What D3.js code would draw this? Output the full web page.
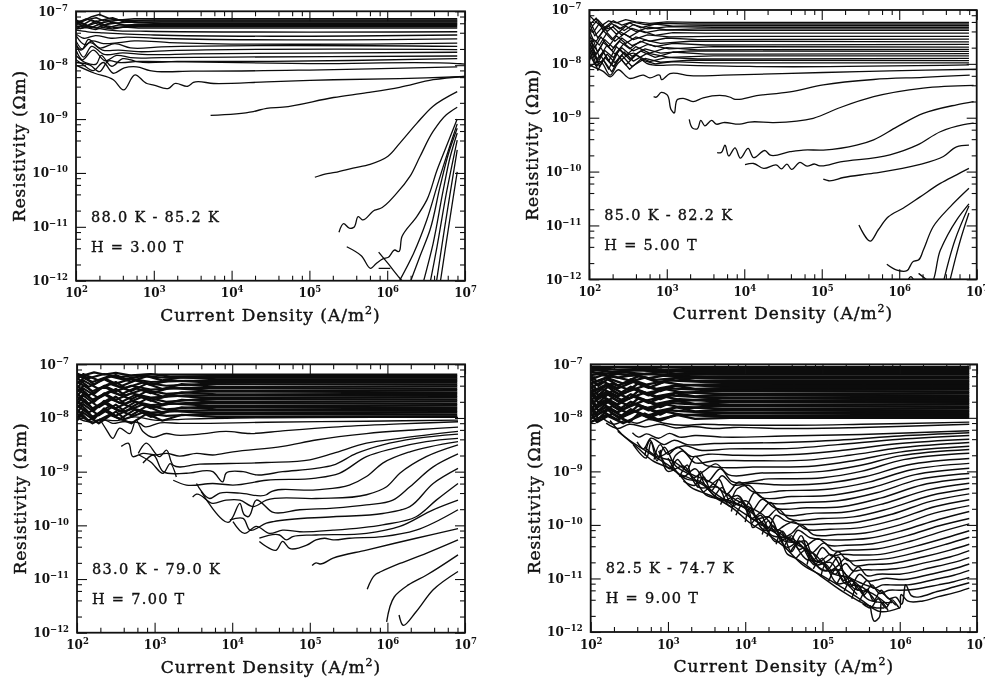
<!DOCTYPE html>
<html><head><meta charset="utf-8">
<script src="https://cdnjs.cloudflare.com/ajax/libs/d3/7.8.5/d3.min.js"></script>
<style>
html,body{margin:0;padding:0;background:#fff;overflow:hidden}
svg{display:block;filter:blur(0.3px)}
text{font-family:"DejaVu Serif",serif;fill:#111}
</style></head><body>
<svg id="c" width="985" height="678"></svg>
<script>
// all values below are log10(J) and log10(rho)
const xDecades=[2,3,4,5,6,7];
const yDecades=[-12,-11,-10,-9,-8,-7];
const minorFactors=[2,4,6,8];
const axisXLabel="Current Density (A/m";
const axisYLabel="Resistivity (Ωm)";
const rangeLabels=["88.0 K - 85.2 K","85.0 K - 82.2 K","83.0 K - 79.0 K","82.5 K - 74.7 K"];
const fieldLabels=["H = 3.00 T","H = 5.00 T","H = 7.00 T","H = 9.00 T"];

const bandXA=[[2,2.1,2.2,2.3,2.42,2.56,2.75,3.1,6.9],[2,2.06,2.15,2.26,2.36,2.5,2.68,3,6.9],[2,2.13,2.25,2.34,2.47,2.62,2.8,3.2,6.9]];
const bandRhoA=[
[-7.2,-7.17,-7.1,-7.06,-7.13,-7.16,-7.14,-7.14,-7.14],
[-7.16,-7.2,-7.15,-7.12,-7.18,-7.15,-7.17,-7.16,-7.16],
[-7.22,-7.14,-7.2,-7.16,-7.12,-7.2,-7.18,-7.18,-7.18],
[-7.18,-7.24,-7.16,-7.22,-7.19,-7.16,-7.21,-7.2,-7.2],
[-7.25,-7.2,-7.26,-7.18,-7.25,-7.22,-7.2,-7.22,-7.22],
[-7.22,-7.28,-7.22,-7.27,-7.2,-7.26,-7.24,-7.24,-7.24],
[-7.3,-7.25,-7.3,-7.24,-7.3,-7.25,-7.27,-7.26,-7.26],
[-7.27,-7.32,-7.27,-7.31,-7.26,-7.3,-7.28,-7.28,-7.28],
[-7.33,-7.3,-7.34,-7.3,-7.33,-7.29,-7.31,-7.31,-7.31]];
const curvesA=[
[2,-7.27,2.2,-7.3,2.5,-7.36,2.9,-7.37,6.9,-7.38],
[2,-7.35,2.15,-7.38,2.35,-7.4,2.6,-7.42,3,-7.44,6.9,-7.44],
[2,-7.42,2.1,-7.5,2.25,-7.45,2.45,-7.5,2.65,-7.48,3,-7.5,6.9,-7.51],
[2,-7.45,2.12,-7.62,2.2,-7.55,2.35,-7.6,2.55,-7.58,2.75,-7.55,3.2,-7.58,6.9,-7.59],
[2,-7.55,2.08,-7.7,2.16,-7.52,2.3,-7.68,2.5,-7.6,2.7,-7.68,3.1,-7.66,6.9,-7.65],
[2,-7.62,2.06,-7.72,2.18,-7.58,2.34,-7.72,2.55,-7.72,2.8,-7.75,3.2,-7.73,6.9,-7.71],
[2,-7.6,2.1,-7.85,2.2,-7.65,2.36,-7.8,2.6,-7.77,2.85,-7.8,3.5,-7.79,6.9,-7.76],
[2,-7.72,2.08,-7.9,2.22,-7.72,2.38,-7.92,2.52,-7.82,2.7,-7.86,3.1,-7.86,4,-7.85,6.9,-7.83],
[2,-7.82,2.12,-7.95,2.26,-7.98,2.32,-7.82,2.46,-8.02,2.6,-7.88,2.8,-7.94,3.3,-7.93,4.5,-7.93,6.9,-7.88],
[2,-7.9,2.1,-8,2.22,-8.1,2.35,-7.95,2.48,-8.15,2.62,-8.05,2.78,-8.03,2.95,-8.1,3.5,-8.11,5,-8.09,6.9,-8.03],
[2,-7.95,2.18,-8,2.3,-8.12,2.42,-7.92,2.55,-7.95,2.8,-7.93,3.4,-7.94,5,-7.97,6.9,-7.97,7,-7.98],
[2,-8,2.24,-8.15,2.48,-8.27,2.61,-8.46,2.76,-8.18,2.91,-8.34,3,-8.37,3.19,-8.43,3.27,-8.34,3.44,-8.39,3.51,-8.32,3.77,-8.34,4.45,-8.31,5.31,-8.27,6.16,-8.25,7,-8.21],
[3.73,-8.93,4.28,-8.86,4.45,-8.8,4.66,-8.78,5.31,-8.6,5.74,-8.51,6.16,-8.41,6.59,-8.27,7,-8.21],
[5.07,-10.08,5.2,-10.02,5.33,-9.99,5.56,-9.91,5.78,-9.84,6.01,-9.69,6.16,-9.45,6.38,-9.08,6.59,-8.76,6.9,-8.49],
[5.38,-11.1,5.44,-10.94,5.52,-11.03,5.57,-11.01,5.63,-10.81,5.68,-10.87,5.84,-10.69,5.91,-10.66,6.12,-10.38,6.29,-10.07,6.42,-9.7,6.59,-9.23,6.76,-8.92,6.9,-8.78],
[5.48,-11.37,5.67,-11.54,5.79,-11.77,5.86,-11.68,5.95,-11.59,6.01,-11.57,6.1,-11.43,6.14,-11.46,6.19,-11.18,6.38,-10.81,6.51,-10.5,6.64,-9.95,6.76,-9.51,6.9,-9],
[5.89,-11.47,6.01,-11.68,6.16,-11.95,6.22,-12.05],
[5.89,-11.77,6.04,-11.77],
[6.14,-12.05,6.34,-11.49,6.51,-10.87,6.64,-10.25,6.76,-9.7,6.9,-9.09],
[6.29,-12.05,6.42,-11.55,6.55,-11.06,6.68,-10.25,6.79,-9.63,6.9,-9.17],
[6.46,-12.05,6.59,-11.31,6.72,-10.32,6.81,-9.7,6.9,-9.26],
[6.55,-12.05,6.64,-11.37,6.76,-10.38,6.9,-9.39],
[6.63,-12.05,6.74,-11,6.9,-9.57],
[6.68,-12.05,6.79,-11,6.9,-9.98]];

const bandXB=[[2,2.07,2.15,2.25,2.35,2.47,2.6,2.78,3,3.4,6.9],[2,2.04,2.11,2.2,2.31,2.42,2.55,2.72,2.92,3.3,6.9],[2,2.09,2.18,2.29,2.39,2.52,2.66,2.85,3.08,3.5,6.9],[2,2.05,2.13,2.23,2.33,2.45,2.57,2.75,3.03,3.6,6.9]];
const bandRhoB=[
[-7.1,-7.2,-7.3,-7.2,-7.24,-7.18,-7.22,-7.25,-7.22,-7.23,-7.23],
[-7.2,-7.3,-7.18,-7.32,-7.2,-7.28,-7.22,-7.27,-7.25,-7.26,-7.26],
[-7.28,-7.15,-7.38,-7.25,-7.35,-7.24,-7.33,-7.26,-7.3,-7.29,-7.29],
[-7.35,-7.42,-7.25,-7.4,-7.28,-7.38,-7.27,-7.35,-7.31,-7.32,-7.32],
[-7.25,-7.48,-7.35,-7.3,-7.45,-7.3,-7.4,-7.32,-7.37,-7.35,-7.35],
[-7.42,-7.3,-7.52,-7.36,-7.32,-7.47,-7.34,-7.42,-7.37,-7.38,-7.38],
[-7.5,-7.58,-7.38,-7.55,-7.4,-7.5,-7.38,-7.47,-7.42,-7.43,-7.43],
[-7.38,-7.55,-7.65,-7.42,-7.58,-7.44,-7.55,-7.46,-7.5,-7.49,-7.49],
[-7.55,-7.7,-7.5,-7.68,-7.48,-7.62,-7.5,-7.58,-7.52,-7.55,-7.54],
[-7.45,-7.62,-7.78,-7.55,-7.7,-7.52,-7.66,-7.56,-7.62,-7.58,-7.59],
[-7.62,-7.82,-7.6,-7.75,-7.58,-7.72,-7.58,-7.68,-7.62,-7.65,-7.64],
[-7.7,-7.55,-7.88,-7.65,-7.82,-7.62,-7.76,-7.64,-7.72,-7.68,-7.69],
[-7.58,-7.85,-7.7,-7.95,-7.68,-7.85,-7.68,-7.8,-7.7,-7.74,-7.73],
[-7.78,-7.65,-7.98,-7.75,-7.88,-7.7,-7.86,-7.72,-7.8,-7.76,-7.77],
[-7.68,-7.92,-7.78,-8.02,-7.72,-7.92,-7.76,-7.88,-7.78,-7.82,-7.81],
[-7.85,-7.72,-8.05,-7.82,-7.98,-7.78,-7.95,-7.8,-7.88,-7.85,-7.85],
[-7.72,-8,-7.85,-8.1,-7.8,-8.02,-7.84,-7.96,-7.88,-7.91,-7.9],
[-7.95,-7.8,-8.12,-7.88,-8.05,-7.84,-8.05,-7.9,-7.97,-7.93,-7.94],
[-7.82,-8.05,-7.92,-8.15,-7.88,-8.1,-7.92,-8,-7.96,-7.98,-7.98]];
const curvesB=[
[2.01,-8.05,2.14,-7.96,2.27,-8.21,2.37,-7.99,2.57,-7.8,2.74,-7.99,3.13,-8.02,4.16,-8.05,6.9,-8.02],
[2,-8.02,2.09,-8.08,2.18,-8.14,2.27,-8.24,2.37,-8.11,2.52,-8.27,2.7,-8.21,2.78,-8.26,2.91,-8.21,2.93,-8.29,3.04,-8.18,3.3,-8.22,3.73,-8.21,5.02,-8.16,5.88,-8.13,7,-8.1],
[2.83,-8.61,2.86,-8.62,2.93,-8.53,3,-8.57,3.06,-8.86,3.09,-8.91,3.14,-8.66,3.21,-8.64,3.34,-8.7,3.47,-8.63,3.82,-8.62,3.86,-8.65,4.16,-8.59,4.59,-8.52,5.02,-8.39,5.67,-8.29,6.31,-8.25,6.91,-8.21],
[3.29,-9.03,3.34,-9.2,3.39,-9.21,3.44,-9.05,3.49,-9.15,3.58,-9.05,3.64,-9.12,3.73,-9.09,3.94,-9.12,4.07,-9.08,4.38,-9.09,4.89,-9.01,5.24,-8.81,5.67,-8.61,6.31,-8.45,6.96,-8.4],
[3.65,-9.65,3.7,-9.65,3.75,-9.51,3.8,-9.71,3.88,-9.56,3.95,-9.75,4.05,-9.57,4.12,-9.74,4.27,-9.61,4.33,-9.69,4.59,-9.63,4.76,-9.6,5.02,-9.6,5.45,-9.51,5.67,-9.41,5.97,-9.17,6.31,-8.92,6.74,-8.76,6.96,-8.7],
[4.01,-9.87,4.12,-9.85,4.25,-9.94,4.42,-9.88,4.48,-9.95,4.55,-9.86,4.61,-9.96,4.72,-9.83,4.81,-9.9,4.91,-9.86,4.96,-9.89,5.24,-9.82,5.88,-9.69,6.23,-9.51,6.53,-9.26,6.83,-9.13,6.96,-9.1],
[5.02,-10.14,5.09,-10.17,5.28,-10.11,5.67,-10.03,6.23,-9.88,6.57,-9.72,6.74,-9.54,6.9,-9.51],
[5.48,-10.99,5.63,-11.29,5.73,-11.08,5.86,-10.84,6.05,-10.68,6.27,-10.47,6.53,-10.22,6.74,-10.06,6.9,-9.94],
[5.84,-11.72,5.97,-11.83,6.1,-11.84,6.18,-11.67,6.25,-11.64,6.31,-11.46,6.44,-11.02,6.66,-10.65,6.9,-10.31],
[6.25,-11.89,6.33,-11.98,6.39,-12.05,6.53,-11.46,6.74,-10.9,6.9,-10.6],
[6.57,-12.05,6.72,-11.27,6.9,-10.64],
[6.65,-12.05,6.79,-11.27,6.9,-10.77],
[6.1,-12.05,6.15,-11.95,6.2,-12.05]];

const bandXC=[[2,2.1,2.22,2.35,2.5,2.7,2.95,3.4,6.9],[2,2.15,2.35,2.55,2.75,2.95,3.2,3.7,6.9],[2,2.08,2.28,2.5,2.62,2.85,3.15,3.6,6.9],[2,2.2,2.42,2.7,2.9,3.1,3.35,3.8,6.9]];
const bandRhoC=[
[-7.22,-7.2,-7.15,-7.19,-7.16,-7.21,-7.19,-7.19,-7.19],
[-7.17,-7.26,-7.18,-7.24,-7.2,-7.18,-7.23,-7.22,-7.22],
[-7.28,-7.18,-7.3,-7.2,-7.27,-7.22,-7.25,-7.25,-7.25],
[-7.2,-7.33,-7.22,-7.32,-7.22,-7.3,-7.24,-7.28,-7.28],
[-7.36,-7.24,-7.38,-7.26,-7.36,-7.27,-7.33,-7.31,-7.31],
[-7.26,-7.42,-7.28,-7.42,-7.3,-7.38,-7.3,-7.34,-7.34],
[-7.45,-7.3,-7.46,-7.33,-7.44,-7.34,-7.4,-7.37,-7.38],
[-7.32,-7.5,-7.36,-7.5,-7.36,-7.46,-7.37,-7.42,-7.41],
[-7.52,-7.38,-7.55,-7.4,-7.5,-7.4,-7.47,-7.44,-7.45],
[-7.4,-7.58,-7.42,-7.57,-7.44,-7.54,-7.44,-7.49,-7.48],
[-7.6,-7.45,-7.63,-7.46,-7.58,-7.47,-7.55,-7.51,-7.52],
[-7.46,-7.66,-7.5,-7.65,-7.5,-7.6,-7.52,-7.56,-7.55],
[-7.68,-7.52,-7.7,-7.54,-7.66,-7.54,-7.62,-7.58,-7.59],
[-7.54,-7.74,-7.56,-7.72,-7.57,-7.68,-7.58,-7.63,-7.62],
[-7.75,-7.58,-7.8,-7.6,-7.74,-7.6,-7.7,-7.65,-7.66],
[-7.6,-7.82,-7.64,-7.8,-7.64,-7.75,-7.66,-7.7,-7.69],
[-7.82,-7.66,-7.86,-7.68,-7.82,-7.68,-7.76,-7.72,-7.73],
[-7.68,-7.9,-7.72,-7.88,-7.7,-7.82,-7.73,-7.77,-7.76],
[-7.92,-7.74,-7.95,-7.75,-7.88,-7.75,-7.84,-7.79,-7.8],
[-7.76,-7.98,-7.78,-7.95,-7.78,-7.9,-7.8,-7.84,-7.83],
[-8,-7.82,-8.02,-7.82,-7.96,-7.82,-7.9,-7.86,-7.87],
[-7.84,-8.05,-7.86,-8.02,-7.84,-7.98,-7.87,-7.91,-7.9],
[-8.05,-7.9,-8.1,-7.88,-8.02,-7.9,-7.96,-7.93,-7.94],
[-7.92,-8.1,-7.94,-8.1,-7.92,-8.05,-7.94,-7.98,-7.97]];
const curvesC=[
[2,-8,2.15,-8.07,2.3,-8.03,2.5,-8.05,2.75,-7.98,3,-8.04,3.4,-8.02,6.91,-7.99],
[2.29,-8.07,2.36,-8.04,2.46,-8.1,2.59,-8.07,2.81,-8.1,2.87,-8.16,3.07,-8.09,3.32,-8.1,4.44,-8.08,5.73,-8.06,6.91,-8.04],
[2.29,-8.01,2.38,-8.22,2.46,-8.38,2.55,-8.19,2.68,-8.29,2.76,-8.04,2.85,-8.25,2.98,-8.36,3.15,-8.29,3.28,-8.32,3.58,-8.3,3.92,-8.25,4.23,-8.29,4.65,-8.24,5.3,-8.17,6.16,-8.11,6.91,-8.07],
[2.57,-8.53,2.66,-8.47,2.72,-8.72,2.85,-8.66,3.02,-8.69,3.15,-8.66,3.32,-8.71,3.54,-8.66,3.75,-8.69,4.01,-8.63,4.65,-8.53,5.08,-8.41,5.73,-8.29,6.37,-8.22,6.91,-8.17],
[2.79,-8.66,2.89,-8.47,3.07,-8.72,3.15,-8.6,3.24,-8.88,3.58,-8.86,4.44,-8.83,5,-8.78,5.3,-8.66,5.73,-8.47,6.16,-8.38,6.91,-8.25],
[2.8,-8.69,2.95,-8.82,3.11,-9.03,3.2,-8.85,3.28,-9.1],
[2.85,-8.84,2.98,-8.69,3.11,-9,3.41,-9.03,3.75,-9,3.88,-9.19,3.92,-9.03,4.14,-9,4.31,-9.06,4.65,-9,5.08,-8.94,5.3,-8.88,5.6,-8.66,5.94,-8.5,6.37,-8.38,6.91,-8.3],
[3.24,-9.16,3.41,-9.25,3.75,-9.22,4.01,-9.25,4.44,-9.16,5.08,-9.12,5.38,-9.03,5.73,-8.72,6.07,-8.57,6.5,-8.44,6.91,-8.38],
[3.54,-9.22,3.71,-9.5,3.84,-9.4,4.1,-9.4,4.44,-9.43,4.48,-9.39,5.08,-9.34,5.51,-9.25,5.73,-9.09,5.94,-8.84,6.29,-8.63,6.91,-8.44],
[3.49,-9.47,3.54,-9.42,3.75,-9.59,3.92,-9.53,4.1,-9.53,4.27,-9.65,4.44,-9.53,5.08,-9.5,5.73,-9.43,5.99,-9.28,6.16,-9.03,6.5,-8.72,6.91,-8.5],
[3.6,-9.37,3.97,-9.93,4.01,-9.84,4.1,-9.59,4.16,-9.81,4.2,-9.84,4.31,-9.53,4.53,-9.76,4.87,-9.71,5.3,-9.68,5.73,-9.62,6.07,-9.53,6.29,-9.28,6.59,-8.91,6.91,-8.67],
[3.97,-9.9,4.14,-9.87,4.23,-10.09,4.44,-9.96,4.53,-9.93,5.3,-9.84,5.94,-9.78,6.29,-9.65,6.59,-9.22,6.91,-8.94],
[4.01,-9.93,4.16,-10.15,4.31,-10.02,4.48,-10.15,4.65,-10.09,4.87,-10.12,5.3,-10.09,5.94,-9.99,6.37,-9.84,6.63,-9.53,6.91,-9.22],
[4.35,-10.24,4.61,-10.18,4.7,-10.27,4.78,-10.21,5.08,-10.18,5.73,-10.15,6.16,-10.02,6.59,-9.71,6.91,-9.53],
[4.35,-10.3,4.57,-10.46,4.65,-10.3,4.74,-10.43,4.96,-10.37,5.08,-10.27,5.19,-10.24,5.3,-10.27,5.51,-10.24,5.94,-10.21,6.37,-10.09,6.91,-9.71],
[5.03,-10.75,5.08,-10.7,5.13,-10.72,5.3,-10.61,5.73,-10.46,6.37,-10.24,6.91,-10.06],
[5.74,-11.19,5.85,-10.91,5.92,-10.86,6.16,-10.71,6.5,-10.52,6.91,-10.27],
[5.99,-11.8,6.09,-11.33,6.27,-11.11,6.5,-10.93,6.91,-10.55],
[6.15,-11.67,6.2,-11.86,6.37,-11.61,6.59,-11.2,6.91,-10.86]];

const bandXD=[[2,2.1,2.22,2.36,2.52,2.72,3,3.5,6.9],[2,2.15,2.35,2.55,2.75,2.95,3.2,3.7,6.9],[2,2.08,2.28,2.5,2.62,2.85,3.15,3.6,6.9],[2,2.2,2.42,2.7,2.9,3.1,3.35,3.8,6.9]];
const bandRhoD=[
[-7.05,-7.05,-7.05,-7.05,-7.05,-7.05,-7.05,-7.05,-7.05],
[-7.09,-7.08,-7.1,-7.09,-7.08,-7.1,-7.09,-7.09,-7.09],
[-7.13,-7.11,-7.14,-7.12,-7.11,-7.13,-7.12,-7.12,-7.12],
[-7.15,-7.17,-7.15,-7.18,-7.15,-7.17,-7.16,-7.16,-7.16],
[-7.2,-7.18,-7.21,-7.18,-7.21,-7.18,-7.2,-7.19,-7.19],
[-7.28,-7.2,-7.25,-7.2,-7.26,-7.21,-7.24,-7.23,-7.23],
[-7.22,-7.32,-7.22,-7.3,-7.22,-7.29,-7.25,-7.26,-7.26],
[-7.36,-7.25,-7.36,-7.25,-7.35,-7.26,-7.31,-7.3,-7.3],
[-7.28,-7.4,-7.28,-7.4,-7.28,-7.38,-7.3,-7.33,-7.33],
[-7.44,-7.32,-7.45,-7.33,-7.44,-7.33,-7.39,-7.37,-7.37],
[-7.35,-7.48,-7.36,-7.48,-7.35,-7.46,-7.38,-7.41,-7.4],
[-7.52,-7.38,-7.54,-7.4,-7.5,-7.4,-7.46,-7.44,-7.44],
[-7.42,-7.58,-7.42,-7.56,-7.42,-7.54,-7.45,-7.48,-7.47],
[-7.6,-7.46,-7.6,-7.46,-7.58,-7.46,-7.53,-7.5,-7.51],
[-7.48,-7.64,-7.5,-7.64,-7.49,-7.6,-7.52,-7.55,-7.54],
[-7.66,-7.52,-7.68,-7.53,-7.65,-7.54,-7.6,-7.57,-7.58],
[-7.54,-7.72,-7.56,-7.7,-7.56,-7.68,-7.58,-7.62,-7.61],
[-7.74,-7.6,-7.75,-7.6,-7.72,-7.6,-7.68,-7.64,-7.65],
[-7.62,-7.8,-7.63,-7.78,-7.63,-7.74,-7.65,-7.69,-7.68],
[-7.82,-7.66,-7.84,-7.67,-7.8,-7.68,-7.74,-7.71,-7.72],
[-7.68,-7.87,-7.7,-7.85,-7.7,-7.82,-7.72,-7.76,-7.75],
[-7.9,-7.74,-7.9,-7.73,-7.86,-7.74,-7.82,-7.78,-7.79],
[-7.76,-7.95,-7.78,-7.92,-7.76,-7.88,-7.79,-7.83,-7.82],
[-7.96,-7.8,-7.98,-7.8,-7.94,-7.8,-7.88,-7.85,-7.86],
[-7.82,-8.02,-7.85,-8,-7.84,-7.96,-7.86,-7.9,-7.89],
[-8.02,-7.88,-8.04,-7.86,-8,-7.88,-7.95,-7.92,-7.93],
[-7.9,-8.08,-7.92,-8.08,-7.92,-8.04,-7.94,-7.97,-7.96],
[-8.08,-7.95,-8.1,-7.92,-8.05,-7.94,-8.02,-8,-8]];
const curvesD=[
[2.15,-8,2.3,-8.12,2.45,-8.05,2.6,-8.1,2.75,-8.03,2.95,-8.1,3.2,-8.14,3.45,-8.12,3.7,-8.13,4.5,-8.14,5.5,-8.12,6.9,-8.08],
[2.2,-8.1,2.35,-8.2,2.5,-8.12,2.7,-8.17,2.9,-8.12,3.1,-8.19,3.3,-8.16,3.6,-8.2,3.85,-8.18,4.5,-8.2,5.5,-8.18,6.9,-8.12],
[2.54,-8.28,2.62,-8.36,2.72,-8.3,2.88,-8.38,3.02,-8.29,3.15,-8.36,3.35,-8.33,3.7,-8.36,4.5,-8.34,5.5,-8.31,6.9,-8.24],
[2.6,-8.45,2.68,-8.58,2.78,-8.38,2.95,-8.5,3.08,-8.42,3.25,-8.5,3.6,-8.48,4.5,-8.46,5.2,-8.42,6,-8.34,6.9,-8.28],
[2.7,-8.7,2.77,-8.42,2.88,-8.72,3.05,-8.6,3.22,-8.52,3.4,-8.6,3.8,-8.58,4.6,-8.57,5.2,-8.5,6,-8.4,6.9,-8.33],
[2.82,-8.78,2.9,-8.5,3.0,-8.68,3.12,-8.55,3.3,-8.72,3.52,-8.68,3.9,-8.7,4.7,-8.68,5.3,-8.6,6,-8.48,6.9,-8.4],
[2.88,-8.62,3.02,-8.95,3.1,-8.7,3.18,-8.62,3.35,-8.84,3.6,-8.8,4,-8.8,4.8,-8.79,5.35,-8.7,6,-8.56,6.9,-8.46],
[3.05,-8.95,3.12,-8.78,3.24,-8.98,3.35,-8.72,3.48,-8.88,3.72,-8.93,4.1,-8.92,4.9,-8.9,5.4,-8.8,6,-8.64,6.9,-8.53],
[3.15,-9.1,3.25,-8.88,3.32,-9.12,3.46,-9,3.62,-8.86,3.78,-9.06,4.2,-9.03,5,-9,5.45,-8.9,6,-8.71,6.9,-8.59],
[3.2,-9.18,3.35,-9.26,3.42,-9,3.5,-9.2,3.68,-8.95,3.82,-9.18,4.3,-9.14,5,-9.12,5.5,-9,6.05,-8.78,6.9,-8.66],
[3.38,-9.3,3.46,-9.1,3.56,-9.36,3.7,-9.08,3.84,-9.25,4.08,-9.22,4.4,-9.25,5.05,-9.22,5.55,-9.1,6.1,-8.88,6.9,-8.76],
[3.45,-9.4,3.52,-9.32,3.66,-9.15,3.76,-9.42,3.92,-9.2,4.1,-9.38,4.5,-9.36,5.1,-9.33,5.6,-9.2,6.15,-8.97,6.9,-8.85],
[3.6,-9.48,3.7,-9.3,3.8,-9.55,3.9,-9.32,4.04,-9.26,4.2,-9.48,4.6,-9.47,5.15,-9.44,5.65,-9.3,6.2,-9.06,6.9,-8.94],
[3.68,-9.62,3.78,-9.42,3.86,-9.58,4,-9.65,4.12,-9.4,4.3,-9.58,4.7,-9.58,5.2,-9.55,5.7,-9.4,6.25,-9.15,6.9,-9.04],
[3.82,-9.75,3.9,-9.5,4.0,-9.62,4.08,-9.74,4.22,-9.52,4.38,-9.68,4.8,-9.68,5.25,-9.66,5.75,-9.5,6.3,-9.25,6.9,-9.13],
[3.88,-9.82,3.98,-9.58,4.08,-9.88,4.2,-9.76,4.32,-9.58,4.46,-9.79,4.9,-9.78,5.3,-9.76,5.8,-9.6,6.35,-9.35,6.9,-9.22],
[4.0,-9.95,4.06,-9.68,4.18,-9.96,4.3,-9.85,4.42,-9.7,4.56,-9.88,5,-9.88,5.4,-9.85,5.85,-9.7,6.4,-9.45,6.9,-9.32],
[4.08,-9.98,4.2,-9.82,4.3,-10.05,4.4,-9.82,4.52,-9.92,4.68,-9.98,5.05,-9.98,5.45,-9.95,5.9,-9.8,6.4,-9.56,6.9,-9.42],
[4.22,-10.18,4.3,-9.92,4.38,-10.12,4.5,-10.02,4.62,-9.94,4.78,-10.08,5.1,-10.08,5.5,-10.05,5.95,-9.9,6.45,-9.66,6.9,-9.53],
[4.28,-10.22,4.36,-10.02,4.48,-10.24,4.6,-10.16,4.72,-10,4.88,-10.18,5.2,-10.18,5.55,-10.15,6,-10,6.45,-9.78,6.9,-9.64],
[4.4,-10.36,4.48,-10.12,4.58,-10.3,4.68,-10.1,4.84,-10.24,4.98,-10.27,5.25,-10.28,5.6,-10.25,6.05,-10.1,6.5,-9.9,6.9,-9.75],
[4.5,-10.42,4.6,-10.2,4.7,-10.46,4.8,-10.38,4.94,-10.26,5.08,-10.38,5.3,-10.38,5.65,-10.35,6.1,-10.2,6.5,-10.02,6.9,-9.88],
[4.58,-10.52,4.66,-10.36,4.78,-10.3,4.86,-10.52,5.02,-10.34,5.14,-10.48,5.35,-10.47,5.7,-10.45,6.15,-10.3,6.55,-10.12,6.9,-9.98],
[4.66,-10.62,4.8,-10.46,4.88,-10.66,5,-10.42,5.12,-10.58,5.24,-10.55,5.4,-10.56,5.75,-10.55,6.2,-10.4,6.6,-10.24,6.9,-10.11],
[4.8,-10.74,4.86,-10.52,4.98,-10.72,5.1,-10.64,5.2,-10.5,5.32,-10.66,5.5,-10.66,5.85,-10.63,6.25,-10.5,6.6,-10.36,6.9,-10.23],
[4.88,-10.82,5,-10.62,5.08,-10.86,5.2,-10.76,5.3,-10.62,5.42,-10.76,5.6,-10.74,5.9,-10.72,6.3,-10.6,6.65,-10.47,6.9,-10.36],
[4.98,-10.96,5.04,-10.74,5.16,-10.92,5.3,-10.72,5.4,-10.86,5.5,-10.84,5.65,-10.84,5.95,-10.82,6.35,-10.7,6.65,-10.6,6.9,-10.48],
[5.08,-11.05,5.18,-10.82,5.28,-11.04,5.38,-10.9,5.46,-10.78,5.58,-10.95,5.72,-10.92,6,-10.92,6.4,-10.8,6.7,-10.7,6.9,-10.61],
[5.18,-11.12,5.26,-10.95,5.36,-11.16,5.48,-10.92,5.6,-11.05,5.7,-11.03,5.8,-11,6.05,-11.02,6.4,-10.92,6.7,-10.82,6.9,-10.73],
[5.28,-11.24,5.38,-11.02,5.46,-11.22,5.58,-11.04,5.66,-11.18,5.78,-11.12,5.88,-11.12,6.1,-11.12,6.45,-11.02,6.7,-10.94,6.9,-10.85],
[5.38,-11.38,5.46,-11.12,5.54,-11.3,5.64,-11.12,5.74,-11.28,5.86,-11.22,6,-11.22,6.2,-11.2,6.5,-11.12,6.7,-11.06,6.9,-10.98],
[5.48,-11.42,5.58,-11.2,5.66,-11.42,5.76,-11.22,5.86,-11.38,5.95,-11.35,6.02,-11.48,6.08,-11.12,6.15,-11.32,6.5,-11.24,6.7,-11.16,6.9,-11.08],
[5.52,-11.47,5.62,-11.55,5.72,-11.38,5.82,-11.55,5.9,-11.4,6,-11.55,6.02,-11.3,6.1,-11.42,6.3,-11.42,6.5,-11.34,6.7,-11.27,6.9,-11.18],
[5.62,-11.5,5.68,-11.8,5.73,-11.74,5.77,-11.45,5.85,-11.6],
[2.25,-8.05,2.4,-8.3,2.75,-8.65,3,-8.88,3.25,-9.15,3.4,-9.18,3.6,-9.4,3.75,-9.55,4,-9.8,4.25,-10.03,4.45,-10.22,4.55,-10.55,4.65,-10.62,5,-10.98,5.3,-11.28,5.7,-11.55,5.8,-11.55],
[2.35,-8.25,2.6,-8.55,2.8,-8.8,3.1,-9,3.3,-9.3,3.55,-9.45,3.85,-9.7,4.05,-9.95,4.3,-10.18,4.5,-10.4,4.75,-10.75,5,-10.95,5.2,-11.12,5.5,-11.4,5.75,-11.62,6,-11.55],
[2.55,-8.5,2.72,-8.75,2.78,-8.45,2.86,-8.8,2.95,-8.55,3.1,-8.9,3.32,-9.1,3.5,-9.45,3.8,-9.55,4.05,-9.75,4.1,-10.05,4.2,-9.95,4.4,-10.32,4.55,-10.25,4.8,-10.65,5,-10.7,5.2,-11.1,5.4,-11.05,5.55,-11.35],
[2.9,-8.6,3,-9,3.2,-8.9,3.4,-9.3,3.65,-9.3,3.8,-9.65,4,-9.55,4.25,-10.1,4.45,-10.1,4.6,-10.5,4.72,-10.2,4.85,-10.65,5.05,-10.85,5.2,-10.6,5.3,-11.05,5.45,-11.3],
[3,-8.75,3.2,-9.1,3.35,-8.95,3.5,-9.3,3.7,-9.55,3.9,-9.45,4.1,-9.9,4.3,-9.85,4.5,-10.3,4.7,-10.35,4.9,-10.75,5.1,-10.7,5.3,-11.1,5.5,-11.15,5.7,-11.45],
[3.15,-9.05,3.45,-9.25,3.65,-9.5,3.95,-9.65,4.15,-9.85,4.35,-10.2,4.6,-10.25,4.8,-10.5,5,-10.85,5.25,-10.85,5.42,-11.2,5.6,-11.25,5.85,-11.5],
[2.7,-8.55,2.85,-8.72,3.05,-8.8,3.3,-9.05,3.55,-9.2,3.75,-9.42,4.03,-9.65,4.22,-9.8,4.42,-10.12,4.65,-10.35,4.9,-10.55,5.12,-10.9,5.35,-11,5.6,-11.4,5.9,-11.45],
[4.2,-10,4.35,-10.08,4.55,-10.42,4.7,-10.3,4.95,-10.7,5.1,-10.55,5.32,-10.95,5.52,-11.1,5.7,-11.2,5.95,-11.5]];

const bandsX=[bandXA,bandXB,bandXC,bandXD];
const bandsRho=[bandRhoA,bandRhoB,bandRhoC,bandRhoD];
const curveSets=[curvesA,curvesB,curvesC,curvesD];

// layout only
const frames=[
 {l:76,r:465,t:11.3,b:280.7,band:1.5,line:1.3},
 {l:589.3,r:976.7,t:10,b:279.3,band:1.3,line:1.3},
 {l:77,r:465,t:364.3,b:632.7,band:2.15,line:1.35},
 {l:590.7,r:977,t:364.3,b:632,band:2.4,line:1.45}];

const svg=d3.select("#c");
const pow10=v=>Math.pow(10,v);
const majorsX=xDecades.map(pow10), majorsY=yDecades.map(pow10);
const minorsX=xDecades.slice(0,-1).flatMap(d=>minorFactors.map(f=>f*pow10(d)));
const minorsY=yDecades.slice(0,-1).flatMap(d=>minorFactors.map(f=>f*pow10(d)));

function sup(sel,exps){
  sel.each(function(d,i){
    const t=d3.select(this).text(null);
    t.append("tspan").text("10");
    t.append("tspan").attr("dy",-5).attr("font-size",8.5).text(String(exps[i]).replace("-","−"));
  });
}

frames.forEach((f,i)=>{
  const x=d3.scaleLog().domain([1e2,1e7]).range([f.l,f.r]);
  const y=d3.scaleLog().domain([1e-12,1e-7]).range([f.b,f.t]);
  const g=svg.append("g");
  const clipId="clip"+i;
  g.append("clipPath").attr("id",clipId).append("rect")
    .attr("x",f.l).attr("y",f.t).attr("width",f.r-f.l).attr("height",f.b-f.t);
  const bandLine=d3.line().x(d=>x(pow10(d[0]))).y(d=>y(pow10(d[1])));
  const line=d3.line().x(d=>x(pow10(d[0]))).y(d=>y(pow10(d[1]))).curve(d3.curveCatmullRom.alpha(0.9));
  const plot=g.append("g").attr("clip-path",`url(#${clipId})`).attr("fill","none").attr("stroke","#0c0c0c").attr("stroke-linejoin","round");
  const grids=bandsX[i];
  bandsRho[i].forEach((row,r)=>{
    const gx=grids[r%grids.length];
    plot.append("path").attr("stroke-width",f.band).attr("d",bandLine(row.map((v,k)=>[gx[k],v])));
  });
  curveSets[i].forEach(flat=>{
    const pts=d3.range(0,flat.length,2).map(k=>[flat[k],flat[k+1]]);
    plot.append("path").attr("stroke-width",f.line).attr("d",line(pts));
  });

  const styleAxis=a=>{a.select(".domain").remove();a.selectAll("line").attr("stroke","#111").attr("stroke-width",1.1);};
  const mk=(gen,tx,ty,vals,size)=>{
    const a=g.append("g").attr("transform",`translate(${tx},${ty})`)
      .call(gen.tickValues(vals).tickSize(-size).tickFormat(""));
    styleAxis(a);return a;};
  mk(d3.axisBottom(x),0,f.b,minorsX,5);
  mk(d3.axisTop(x),0,f.t,minorsX,5);
  mk(d3.axisLeft(y),f.l,0,minorsY,5);
  mk(d3.axisRight(y),f.r,0,minorsY,5);
  mk(d3.axisTop(x),0,f.t,majorsX,10);
  mk(d3.axisRight(y),f.r,0,majorsY,10);
  const bx=g.append("g").attr("transform",`translate(0,${f.b})`)
    .call(d3.axisBottom(x).tickValues(majorsX).tickSize(-10).tickPadding(8).tickFormat(d=>"10"));
  styleAxis(bx);
  bx.selectAll("text").attr("font-size",12).attr("font-weight","bold").attr("fill","#111").style("font-family",'"DejaVu Serif",serif').call(sup,xDecades);
  const ly=g.append("g").attr("transform",`translate(${f.l},0)`)
    .call(d3.axisLeft(y).tickValues(majorsY).tickSize(-10).tickPadding(8).tickFormat(d=>"10"));
  styleAxis(ly);
  ly.selectAll("text").attr("font-size",12).attr("font-weight","bold").attr("fill","#111").style("font-family",'"DejaVu Serif",serif').call(sup,yDecades);

  g.append("rect").attr("x",f.l).attr("y",f.t).attr("width",f.r-f.l).attr("height",f.b-f.t)
    .attr("fill","none").attr("stroke","#111").attr("stroke-width",1.8);

  const cx=(f.l+f.r)/2;
  const xt=g.append("text").attr("x",cx).attr("y",f.b+40).attr("text-anchor","middle")
    .attr("font-size",17).attr("letter-spacing",1).attr("stroke","#111").attr("stroke-width",0.4);
  xt.append("tspan").text(axisXLabel);
  xt.append("tspan").attr("dy",-7).attr("font-size",11).text("2");
  xt.append("tspan").attr("dy",7).text(")");
  g.append("text").attr("transform",`translate(${f.l-51},${(f.t+f.b)/2}) rotate(-90)`)
    .attr("text-anchor","middle").attr("font-size",17).attr("letter-spacing",0.85)
    .attr("stroke","#111").attr("stroke-width",0.4).text(axisYLabel);
  g.append("text").attr("x",f.l+15).attr("y",f.b-59).attr("font-size",14.5).attr("letter-spacing",1.3)
    .attr("stroke","#111").attr("stroke-width",0.35).text(rangeLabels[i]);
  g.append("text").attr("x",f.l+15).attr("y",f.b-29).attr("font-size",14.5).attr("letter-spacing",1.3)
    .attr("stroke","#111").attr("stroke-width",0.35).text(fieldLabels[i]);
});
</script>
</body></html>
